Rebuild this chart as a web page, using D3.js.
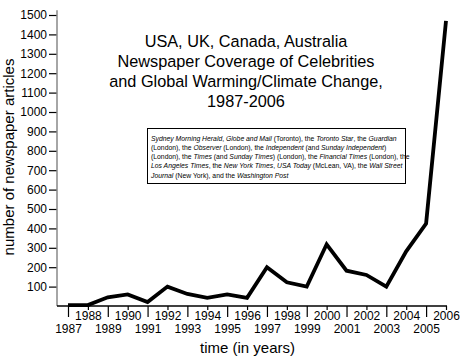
<!DOCTYPE html>
<html><head><meta charset="utf-8">
<script src="https://cdn.jsdelivr.net/npm/d3@7"></script>
<style>
body{margin:0;background:#fff;}
svg{display:block;font-family:"Liberation Sans",Arial,sans-serif;}
</style></head>
<body><svg id="c" width="464" height="361"></svg>
<script>
const years = [1987,1988,1989,1990,1991,1992,1993,1994,1995,1996,1997,1998,1999,2000,2001,2002,2003,2004,2005,2006];
const articles = [5,5,45,60,20,100,62,42,60,42,200,122,100,318,182,160,100,282,425,1470];
const yTicks = [100,200,300,400,500,600,700,800,900,1000,1100,1200,1300,1400,1500];
const titleLines = ["USA, UK, Canada, Australia","Newspaper Coverage of Celebrities","and Global Warming/Climate Change,","1987-2006"];
const xLabel = "time (in years)";
const yLabel = "number of newspaper articles";
// source note: [text, italic]
const noteLines = [
  [["Sydney Morning Herald",1],[", ",0],["Globe and Mail",1],[" (Toronto), the ",0],["Toronto Star",1],[", the ",0],["Guardian",1]],
  [["(London), the ",0],["Observer",1],[" (London), the ",0],["Independent",1],[" (and ",0],["Sunday Independent",1],[")",0]],
  [["(London), the ",0],["Times",1],[" (and ",0],["Sunday Times",1],[") (London), the ",0],["Financial Times",1],[" (London), the",0]],
  [["Los Angeles Times",1],[", the ",0],["New York Times",1],[", ",0],["USA Today",1],[" (McLean, VA), the ",0],["Wall Street",1]],
  [["Journal",1],[" (New York), and the ",0],["Washington Post",1]]
];

const svg = d3.select("#c");
const x = d3.scaleLinear().domain([1987,2006]).range([68,446]);
const y = d3.scaleLinear().domain([0,1500]).range([306,15]);

// y axis
const ya = svg.append("g").attr("transform","translate(57,0)")
  .call(d3.axisLeft(y).tickValues(yTicks).tickSize(8).tickPadding(2).tickFormat(d3.format("d")));
ya.select(".domain").remove();
ya.selectAll(".tick line").attr("stroke","#000").attr("stroke-width",1.2);
ya.selectAll(".tick text").attr("font-size",12).attr("fill","#000").attr("font-family","Liberation Sans, Arial, sans-serif");
svg.append("line").attr("x1",57).attr("x2",57).attr("y1",y(1525)).attr("y2",y(0))
  .attr("stroke","#888").attr("stroke-width",1.5);

// x axis
const xa = svg.append("g").attr("transform","translate(0,306)")
  .call(d3.axisBottom(x).tickValues(years).tickSize(11).tickPadding(2).tickFormat(d3.format("d")));
xa.select(".domain").remove();
xa.selectAll(".tick line").attr("stroke","#000").attr("stroke-width",1.2)
  .attr("y2", d => d % 2 === 0 ? 4 : 11);
xa.selectAll(".tick text").attr("font-size",12).attr("fill","#000")
  .attr("font-family","Liberation Sans, Arial, sans-serif")
  .attr("dy",null)
  .attr("y", d => d % 2 === 0 ? 14 : 27);
svg.append("line").attr("x1",57).attr("x2",447).attr("y1",306).attr("y2",306)
  .attr("stroke","#000").attr("stroke-width",1.5);

// data line
const line = d3.line().x((d,i)=>x(years[i])).y(d=>y(d));
svg.append("path").datum(articles).attr("d",line)
  .attr("fill","none").attr("stroke","#000").attr("stroke-width",3.8).attr("stroke-linejoin","miter");

// title
svg.append("g").selectAll("text").data(titleLines).join("text")
  .attr("x",246).attr("y",(d,i)=>46.5+i*20.2)
  .attr("text-anchor","middle").attr("font-size",16.3).attr("fill","#000").text(d=>d);

// axis labels
svg.append("text").attr("x",247.5).attr("y",352.5).attr("text-anchor","middle")
  .attr("font-size",15).attr("fill","#000").text(xLabel);
svg.append("text").attr("transform","translate(14,157) rotate(-90)").attr("text-anchor","middle")
  .attr("font-size",15).attr("fill","#000").text(yLabel);

// note box
svg.append("rect").attr("x",147.5).attr("y",128.5).attr("width",258).attr("height",55)
  .attr("fill","#fff").attr("stroke","#000").attr("stroke-width",1);
const nt = svg.append("g");
const fs = 7.3;
noteLines.forEach((ln,i)=>{
  const t = nt.append("text").attr("x",151).attr("y",140.5+i*9.3).attr("font-size",fs).attr("fill","#000");
  ln.forEach(([s,it])=>{
    t.append("tspan").attr("font-style",it?"italic":"normal").text(s);
  });
});
// fit first line to box width
const w0 = nt.select("text").node().getComputedTextLength();
const target = 246;
const nfs = fs*target/w0;
nt.selectAll("text").attr("font-size",nfs);
</script>
</body></html>
